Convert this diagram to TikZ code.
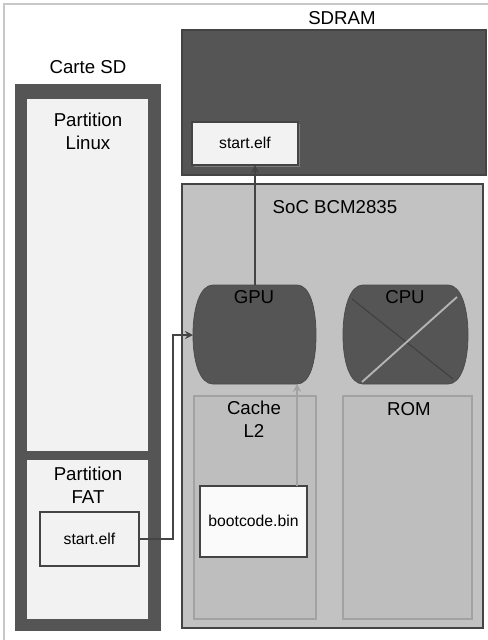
\documentclass[tikz,border=0pt]{standalone}
\usepackage{fontspec}
\setmainfont{Liberation Sans}
\usetikzlibrary{arrows.meta}
\definecolor{darkg}{HTML}{555555}
\definecolor{borderg}{HTML}{444444}
\definecolor{lightp}{HTML}{F2F2F2}
\definecolor{socg}{HTML}{C2C2C2}
\definecolor{innerg}{HTML}{BEBEBE}
\definecolor{innerb}{HTML}{A2A2A2}
\definecolor{frameg}{HTML}{C8C8C8}
\tikzset{
  bigtxt/.style={font=\fontsize{14}{16}\selectfont, align=center, inner sep=0pt},
  smalltxt/.style={font=\fontsize{11.8}{14}\selectfont, align=center, inner sep=0pt},
  filebox/.style={draw=borderg, line width=1pt, fill=lightp},
  conn/.style={draw=borderg, line width=1.2pt, -{Stealth[length=6pt,width=6pt]}},
  lightconn/.style={draw=innerb, line width=1.2pt, -{Stealth[length=6pt,width=6pt]}},
}
\begin{document}
\begin{tikzpicture}[x=0.75pt, y=-0.75pt]
\useasboundingbox (0,0) rectangle (487,640);
\fill[white] (0,0) rectangle (487,640);
% outer frame
\draw[frameg, line width=1pt] (4,645) -- (4,4) -- (492,4);

% Carte SD
\node[bigtxt] (lsd) at (88,67) {Carte SD};
\fill[darkg] (15,84) rectangle (161,631);
\fill[lightp] (27,99) rectangle (148,451);
\fill[lightp] (27,460) rectangle (148,619);
\node[bigtxt] (tlinux) at (88,131) {Partition\\[1pt]Linux};
\node[bigtxt] (tfat) at (88,485) {Partition\\[1pt]FAT};
\path[filebox] (40,512) rectangle (139,566);
\coordinate (sdelfE) at (139,539);
\node[smalltxt] (sdelft) at (89.5,539) {start.elf};

% SDRAM
\node[bigtxt] (lsdram) at (342,18) {SDRAM};
\path[fill=darkg, draw=borderg, line width=1pt] (182,30) rectangle (486,175);
\fill[borderg!70] (194,124) rectangle (300,167);
\path[filebox] (192,122) rectangle (298,165);
\node[smalltxt] (ramelf) at (245,143) {start.elf};
\coordinate (ramelfS) at (255,165);

% SoC
\path[fill=socg, draw=borderg, line width=1.2pt] (182,184) rectangle (483,628);
\node[bigtxt] (lsoc) at (335,207) {SoC BCM2835};

% Cache L2 and ROM
\path[fill=innerg, draw=innerb, line width=0.8pt] (194,396) rectangle (316,619);
\node[bigtxt] (tcache) at (254,419) {Cache\\[1pt]L2};
\path[fill=innerg, draw=innerb, line width=0.8pt] (343,396) rectangle (472,619);
\node[bigtxt] (trom) at (409,409) {ROM};

% bootcode.bin
\path[filebox, fill=white!60!lightp] (200,486) rectangle (307,557);
\node[smalltxt] (boot) at (253.5,521) {bootcode.bin};
\coordinate (bootN) at (297,486);

% GPU
\path[fill=darkg, draw=darkg!90!black, line width=0.6pt]
  (213,285) -- (297,285) .. controls (310,285) and (316,308) .. (316,335)
  .. controls (316,362) and (310,384) .. (297,384) -- (213,384)
  .. controls (200,384) and (193,362) .. (193,335)
  .. controls (193,308) and (200,285) .. (213,285) -- cycle;
\node[bigtxt] (gpu) at (254,297) {GPU};
\coordinate (gpuN) at (255,285);
\coordinate (gpuW) at (193,335);
\coordinate (gpuS) at (297,384);

% CPU
\path[fill=darkg, draw=darkg!90!black, line width=0.6pt]
  (363,285) -- (448,285) .. controls (461,285) and (468,308) .. (468,335)
  .. controls (468,362) and (461,384) .. (448,384) -- (363,384)
  .. controls (350,384) and (343,362) .. (343,335)
  .. controls (343,308) and (350,285) .. (363,285) -- cycle;
\draw[black!75, line width=0.8pt] (352,299) -- (453,379);
\draw[innerb!80!white, line width=1.4pt] (362,382) -- (457,297);
\node[bigtxt] (cpu) at (405,297) {CPU};

% connectors
\draw[conn] (sdelfE) -- (173,539) -- (173,335) -- (gpuW);
\draw[conn] (gpuN) -- (ramelfS);
\draw[lightconn] (bootN) -- (gpuS);
\end{tikzpicture}
\end{document}
